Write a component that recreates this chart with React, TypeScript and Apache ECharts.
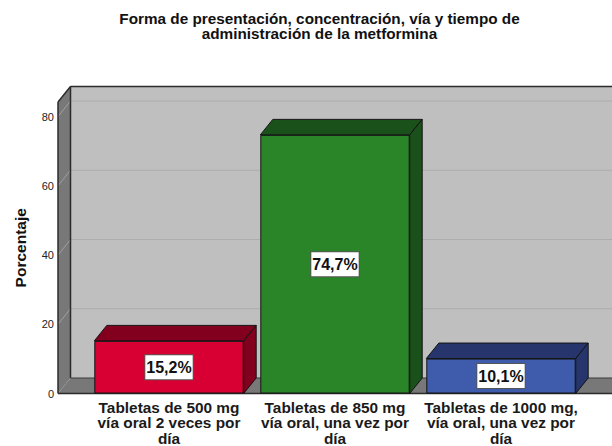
import React, { useEffect, useRef } from "react";
import * as echarts from "echarts";

const titleText = "Forma de presentación, concentración, vía y tiempo de\nadministración de la metformina";
const categories = [
  "Tabletas de 500 mg\nvía oral 2 veces por\ndía",
  "Tabletas de 850 mg\nvía oral, una vez por\ndía",
  "Tabletas de 1000 mg,\nvía oral, una vez por\ndía",
];
const values = [15.2, 74.7, 10.1];
const frontColors = ["#d80032", "#2a8529", "#3f5bab"];
const sideColors = ["#82001e", "#1a5019", "#26356b"];
const yTicks = [0, 20, 40, 60, 80];
const yMax = 84.2;
const depthX = 12.5;
const depthY = 15.5;
const wallOverhang = 28;
const FONT = "'Liberation Sans', Arial, sans-serif";

export default function App() {
  const ref = useRef<HTMLDivElement>(null);
  useEffect(() => {
    const chart = echarts.init(ref.current!, undefined, { renderer: "svg" });
    const edge = { stroke: "#2b2b2b", lineWidth: 1.5 };
    chart.setOption({
      animation: false,
      backgroundColor: "#ffffff",
      title: {
        text: titleText,
        left: 314.5,
        top: 6,
        textAlign: "center",
        textStyle: { fontFamily: FONT, fontSize: 15.3, fontWeight: "bold", color: "#111", lineHeight: 15.3 },
      },
      grid: { left: 86, top: 102, width: 498, height: 291.5, outerBoundsMode: "none" },
      xAxis: {
        type: "category",
        data: categories,
        axisLine: { show: false },
        axisTick: { show: false },
        axisLabel: {
          interval: 0,
          margin: 6,
          fontFamily: FONT,
          fontSize: 15.4,
          fontWeight: "bold",
          lineHeight: 15.4,
          color: "#1a1a1a",
          align: "center",
        },
      },
      yAxis: {
        type: "value",
        min: 0,
        max: yMax,
        interval: 20,
        offset: 28,
        name: "Porcentaje",
        nameLocation: "middle",
        nameGap: 30,
        nameTextStyle: { fontFamily: FONT, fontSize: 15.5, fontWeight: "bold", color: "#111" },
        axisLine: { show: false },
        axisTick: { show: false },
        splitLine: { show: false },
        axisLabel: { showMaxLabel: false, margin: 4, fontFamily: FONT, fontSize: 11, color: "#222" },
      },
      series: [
        {
          type: "custom",
          z: 1,
          clip: false,
          silent: true,
          data: [[0, 0]],
          renderItem: (params: any, api: any) => {
            const cs = params.coordSys;
            const x0 = cs.x - wallOverhang;
            const x1 = x0 + depthX;
            const xEnd = 640;
            const yBase = api.coord([0, 0])[1];
            const yTop = api.coord([0, yMax])[1];
            const children: any[] = [
              { type: "rect", shape: { x: x1, y: yTop - depthY, width: xEnd - x1, height: yBase - yTop }, style: { fill: "#bfbfbf" } },
              { type: "polygon", shape: { points: [[x0, yTop], [x1, yTop - depthY], [x1, yBase - depthY], [x0, yBase]] }, style: { fill: "#787878" } },
              { type: "polygon", shape: { points: [[x0, yBase], [x1, yBase - depthY], [xEnd, yBase - depthY], [xEnd, yBase]] }, style: { fill: "#787878" } },
            ];
            yTicks.slice(1).forEach((t) => {
              const y = api.coord([0, t])[1];
              children.push(
                { type: "line", shape: { x1, y1: y - depthY, x2: xEnd, y2: y - depthY }, style: { stroke: "#adadad", lineWidth: 1 } },
                { type: "line", shape: { x1: x0, y1: y, x2: x1, y2: y - depthY }, style: { stroke: "#a0a0a0", lineWidth: 1 } },
              );
            });
            children.push(
              { type: "line", shape: { x1, y1: yTop - depthY, x2: xEnd, y2: yTop - depthY }, style: edge },
              { type: "line", shape: { x1, y1: yTop - depthY, x2: x1, y2: yBase - depthY }, style: edge },
              { type: "line", shape: { x1, y1: yBase - depthY, x2: xEnd, y2: yBase - depthY }, style: { stroke: "#3a3a3a", lineWidth: 1 } },
              { type: "line", shape: { x1: x0, y1: yTop, x2: x1, y2: yTop - depthY }, style: edge },
              { type: "line", shape: { x1: x0, y1: yTop, x2: x0, y2: yBase }, style: edge },
              { type: "line", shape: { x1: x0, y1: yBase, x2: xEnd, y2: yBase }, style: edge },
            );
            return { type: "group", children };
          },
        },
        {
          type: "custom",
          z: 2,
          clip: false,
          silent: true,
          data: values.map((v, i) => [i, v]),
          renderItem: (params: any, api: any) => {
            const i = params.dataIndex;
            const top = api.coord([api.value(0), api.value(1)]);
            const base = api.coord([api.value(0), 0]);
            const w = api.size([1, 0])[0] * 0.9;
            const l = top[0] - w / 2;
            const r = top[0] + w / 2;
            const style = { fill: sideColors[i], stroke: "#141414", lineWidth: 1 };
            return {
              type: "group",
              children: [
                { type: "polygon", shape: { points: [[l, top[1]], [l + depthX, top[1] - depthY], [r + depthX, top[1] - depthY], [r, top[1]]] }, style },
                { type: "polygon", shape: { points: [[r, top[1]], [r + depthX, top[1] - depthY], [r + depthX, base[1] - depthY], [r, base[1]]] }, style },
              ],
            };
          },
        },
        {
          type: "bar",
          z: 3,
          barWidth: "90%",
          data: values.map((v, i) => ({
            value: v,
            itemStyle: { color: frontColors[i], borderColor: "#141414", borderWidth: 1 },
          })),
          label: {
            show: true,
            position: "inside",
            formatter: (p: any) => p.value.toFixed(1).replace(".", ",") + "%",
            fontFamily: FONT,
            fontSize: 16,
            fontWeight: "bold",
            color: "#111",
            backgroundColor: "#ffffff",
            borderColor: "#555555",
            borderWidth: 1,
            padding: [4, 1, 4, 1],
          },
        },
      ],
    });
    return () => chart.dispose();
  }, []);
  return <div ref={ref} style={{ position: "absolute", left: 0, top: 0, width: 612, height: 446, overflow: "hidden" }} />;
}
